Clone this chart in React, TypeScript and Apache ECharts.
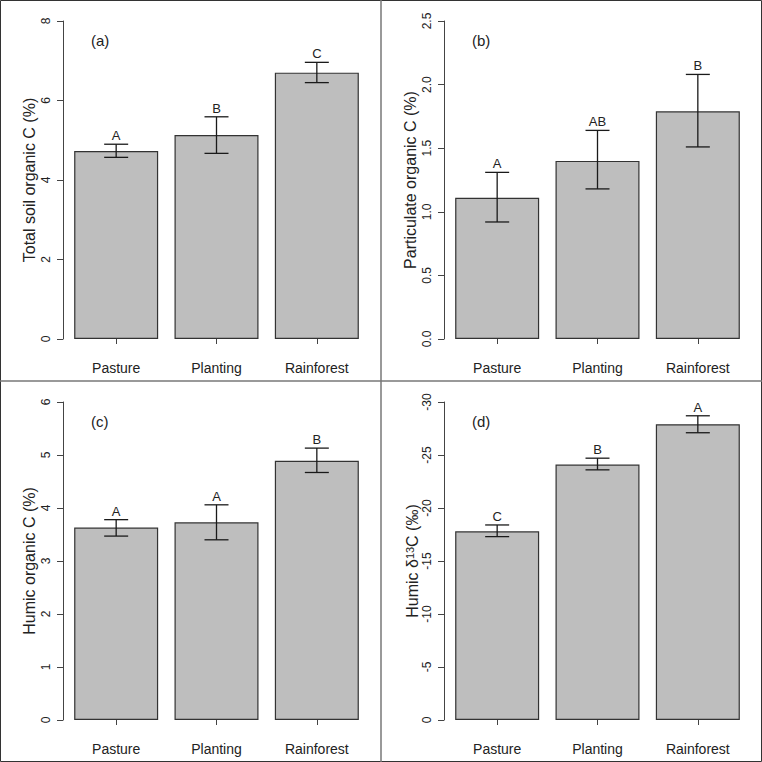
import React, { useEffect, useRef } from "react";
import * as echarts from "echarts";

const categories = ["Pasture", "Planting", "Rainforest"];

const totalC = [4.73, 5.13, 6.7];
const totalCLow = [4.57, 4.67, 6.45];
const totalCHigh = [4.9, 5.59, 6.96];
const totalCLetters = ["A", "B", "C"];

const partC = [1.11, 1.4, 1.79];
const partCLow = [0.92, 1.18, 1.51];
const partCHigh = [1.31, 1.64, 2.08];
const partCLetters = ["A", "AB", "B"];

const humicC = [3.63, 3.73, 4.89];
const humicCLow = [3.47, 3.4, 4.67];
const humicCHigh = [3.78, 4.06, 5.13];
const humicCLetters = ["A", "A", "B"];

const humicD = [-17.8, -24.1, -27.9];
const humicDLow = [-17.3, -23.6, -27.1];
const humicDHigh = [-18.4, -24.7, -28.7];
const humicDLetters = ["C", "B", "A"];

const FONT = "'Liberation Sans', Arial, Helvetica, sans-serif";

type Panel = {
  tag: string;
  yName: string;
  min: number;
  max: number;
  interval: number;
  inverse: boolean;
  values: number[];
  low: number[];
  high: number[];
  letters: string[];
  fmt: (v: number) => string;
};

const panels: Panel[] = [
  { tag: "(a)", yName: "Total soil organic C (%)", min: 0, max: 8, interval: 2, inverse: false, values: totalC, low: totalCLow, high: totalCHigh, letters: totalCLetters, fmt: (v) => String(v) },
  { tag: "(b)", yName: "Particulate organic C (%)", min: 0, max: 2.5, interval: 0.5, inverse: false, values: partC, low: partCLow, high: partCHigh, letters: partCLetters, fmt: (v) => v.toFixed(1) },
  { tag: "(c)", yName: "Humic organic C (%)", min: 0, max: 6, interval: 1, inverse: false, values: humicC, low: humicCLow, high: humicCHigh, letters: humicCLetters, fmt: (v) => String(v) },
  { tag: "(d)", yName: "{n|Humic \u03b4}{sup|13}{n|C (\u2030)}", min: -30, max: 0, interval: 5, inverse: true, values: humicD, low: humicDLow, high: humicDHigh, letters: humicDLetters, fmt: (v) => String(v) },
];

export default function App() {
  const ref = useRef<HTMLDivElement>(null);
  useEffect(() => {
    if (!ref.current) return;
    const chart = echarts.init(ref.current, null, { renderer: "svg" });
    const grids: any[] = [];
    const xAxes: any[] = [];
    const yAxes: any[] = [];
    const series: any[] = [];
    const graphics: any[] = [];
    panels.forEach((p, i) => {
      const ox = (i % 2) * 381;
      const oy = Math.floor(i / 2) * 381;
      grids.push({ left: ox + 66, top: oy + 21, width: 301, height: 318, containLabel: false });
      xAxes.push({
        type: "category",
        gridIndex: i,
        data: categories,
        axisLine: { show: false },
        axisTick: { show: true, alignWithLabel: true, length: 5, lineStyle: { color: "#444", width: 1 } },
        axisLabel: { margin: 22, fontSize: 14, color: "#222", fontFamily: FONT },
        splitLine: { show: false },
      });
      yAxes.push({
        type: "value",
        gridIndex: i,
        min: p.min,
        max: p.max,
        interval: p.interval,
        inverse: p.inverse,
        offset: 3,
        name: p.yName,
        nameLocation: "middle",
        nameRotate: 90,
        nameGap: i === 3 ? 24 : 26,
        nameTextStyle: {
          fontSize: 16,
          color: "#222",
          fontFamily: FONT,
          rich: {
            n: { fontSize: 16, color: "#222", fontFamily: FONT, lineHeight: 16, padding: [5, 0, 0, 0], verticalAlign: "bottom" },
            sup: { fontSize: 11, color: "#222", fontFamily: FONT, lineHeight: 12, verticalAlign: "top" },
          },
        },
        axisLine: { show: true, lineStyle: { color: "#444", width: 1 } },
        axisTick: { show: true, length: 6, lineStyle: { color: "#444", width: 1 } },
        axisLabel: { rotate: 90, margin: 11, fontSize: 12, color: "#222", fontFamily: FONT, formatter: p.fmt },
        splitLine: { show: false },
      });
      series.push({
        type: "bar",
        xAxisIndex: i,
        yAxisIndex: i,
        data: p.values,
        barWidth: 84,
        itemStyle: { color: "#bebebe", borderColor: "#333", borderWidth: 1.2 },
        silent: true,
      });
      series.push({
        type: "custom",
        xAxisIndex: i,
        yAxisIndex: i,
        data: categories.map((_, k) => [k, p.low[k], p.high[k]]),
        encode: { x: 0, y: [1, 2] },
        renderItem: (params: any, api: any) => {
          const k = api.value(0);
          const a = api.coord([k, api.value(1)]);
          const b = api.coord([k, api.value(2)]);
          const x = a[0];
          const yTop = Math.min(a[1], b[1]);
          const yBot = Math.max(a[1], b[1]);
          const st = { stroke: "#1a1a1a", lineWidth: 1.3 };
          return {
            type: "group",
            children: [
              { type: "line", shape: { x1: x, y1: yTop, x2: x, y2: yBot }, style: st },
              { type: "line", shape: { x1: x - 12, y1: yTop, x2: x + 12, y2: yTop }, style: st },
              { type: "line", shape: { x1: x - 12, y1: yBot, x2: x + 12, y2: yBot }, style: st },
              {
                type: "text",
                x: x,
                y: yTop - 2,
                style: { text: p.letters[params.dataIndex], fill: "#222", fontSize: 13, fontFamily: FONT, align: "center", verticalAlign: "bottom" },
              },
            ],
          };
        },
        silent: true,
        z: 5,
      });
      graphics.push({
        type: "text",
        left: ox + 91,
        top: oy + 33,
        style: { text: p.tag, fill: "#222", fontSize: 15, fontFamily: FONT },
      });
    });
    graphics.push(
      { type: "rect", shape: { x: 0.5, y: 0.5, width: 761, height: 761 }, style: { fill: "none", stroke: "#333", lineWidth: 1 }, z: 10 },
      { type: "line", shape: { x1: 381, y1: 0, x2: 381, y2: 762 }, style: { stroke: "#777", lineWidth: 1.5 }, z: 10 },
      { type: "line", shape: { x1: 0, y1: 381, x2: 762, y2: 381 }, style: { stroke: "#777", lineWidth: 1.5 }, z: 10 }
    );
    chart.setOption({
      animation: false,
      backgroundColor: "#ffffff",
      textStyle: { fontFamily: FONT },
      grid: grids,
      xAxis: xAxes,
      yAxis: yAxes,
      series,
      graphic: graphics,
    });
    return () => chart.dispose();
  }, []);
  return <div ref={ref} style={{ position: "fixed", left: 0, top: 0, width: 762, height: 762 }} />;
}
